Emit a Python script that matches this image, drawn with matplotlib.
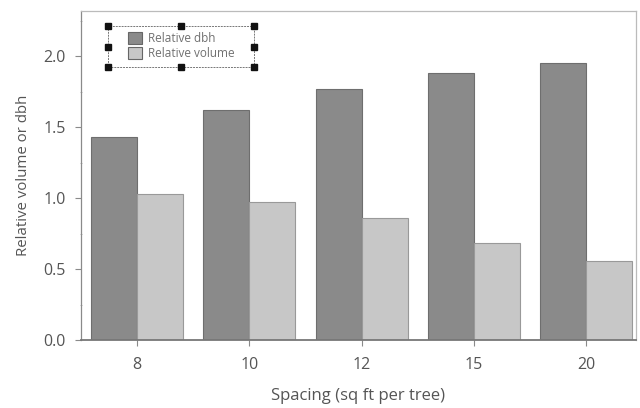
#!/usr/bin/env python3

import numpy as np
from matplotlib import pyplot as plt
from matplotlib.patches import Rectangle
from matplotlib.ticker import MultipleLocator

spacing = ['8', '10', '12', '15', '20']
rel_dbh = [1.43, 1.62, 1.77, 1.88, 1.95]
rel_volume = [1.03, 0.97, 0.86, 0.68, 0.56]
series_names = ['Relative dbh', 'Relative volume']

if __name__ == '__main__':

  plt.rcParams['font.family'] = ['Open Sans', 'DejaVu Sans']
  txt = '#555555'
  spine = '#8a8a8a'

  fig = plt.figure(figsize=(6.4, 4.08), dpi=100)
  ax = fig.add_axes([0.1266, 0.1667, 0.867, 0.806])

  x = np.arange(len(spacing))
  w = 0.41
  ax.bar(x - w/2, rel_dbh, w, color='#8a8a8a', edgecolor='#6e6e6e', linewidth=0.8, label=series_names[0])
  ax.bar(x + w/2, rel_volume, w, color='#c7c7c7', edgecolor='#999999', linewidth=0.8, label=series_names[1])

  ax.set_xlim(-0.5, 4.445)
  ax.set_ylim(0, 2.317)

  ax.set_xticks(x)
  ax.set_xticklabels(spacing)
  ax.yaxis.set_minor_locator(MultipleLocator(0.25))
  ax.set_yticks([0, 0.5, 1.0, 1.5, 2.0])
  ax.set_yticklabels(['0.0', '0.5', '1.0', '1.5', '2.0'])
  ax.tick_params(axis='y', which='major', length=4, width=0.8, color=spine, labelsize=11.5,
                 labelcolor=txt, pad=7)
  ax.tick_params(axis='y', which='minor', length=2, width=0.6, color='#b0b0b0', direction='inout')
  ax.tick_params(axis='x', length=4, width=0.8, color=spine, labelsize=11.5, labelcolor=txt, pad=8)

  for s in ax.spines.values():
    s.set_color('#bbbbbb')
    s.set_linewidth(0.9)
  ax.spines['left'].set_color(spine)
  ax.spines['bottom'].set_color('#777777')
  ax.spines['bottom'].set_linewidth(1.3)

  ax.set_xlabel('Spacing (sq ft per tree)', fontsize=12, color=txt, labelpad=11)
  ax.set_ylabel('Relative volume or dbh', fontsize=10.8, color=txt, labelpad=9)

  leg = ax.legend(loc='upper left', bbox_to_anchor=(0.0847, 0.937), borderaxespad=0,
                  fontsize=8.5, frameon=False, handlelength=1.2, handleheight=1.15,
                  handletextpad=0.45, labelspacing=0.2, borderpad=0, labelcolor='#707070')
  for h in leg.legend_handles:
    h.set_edgecolor('#666666')

  # dashed selection box with handles around the legend
  fig.canvas.draw()
  ext = leg.get_window_extent()
  W, H = fig.bbox.width, fig.bbox.height
  x0, x1 = (ext.x0 - 20) / W, (ext.x1 + 20) / W
  y0, y1 = (ext.y0 - 7) / H, (ext.y1 + 6) / H
  fig.add_artist(Rectangle((x0, y0), x1 - x0, y1 - y0, transform=fig.transFigure, fill=False,
                           edgecolor='#777777', linewidth=0.7, linestyle=(0, (2, 1))))
  xs = [x0, (x0 + x1) / 2, x1]
  ys = [y0, (y0 + y1) / 2, y1]
  hx, hy = [], []
  for xx in xs:
    for yy in ys:
      if xx == xs[1] and yy == ys[1]:
        continue
      hx.append(xx)
      hy.append(yy)
  fig.add_artist(plt.Line2D(hx, hy, linestyle='none', marker='s', markersize=4.5,
                            color='#111111', transform=fig.transFigure))

  plt.savefig('out.png', dpi=100)
